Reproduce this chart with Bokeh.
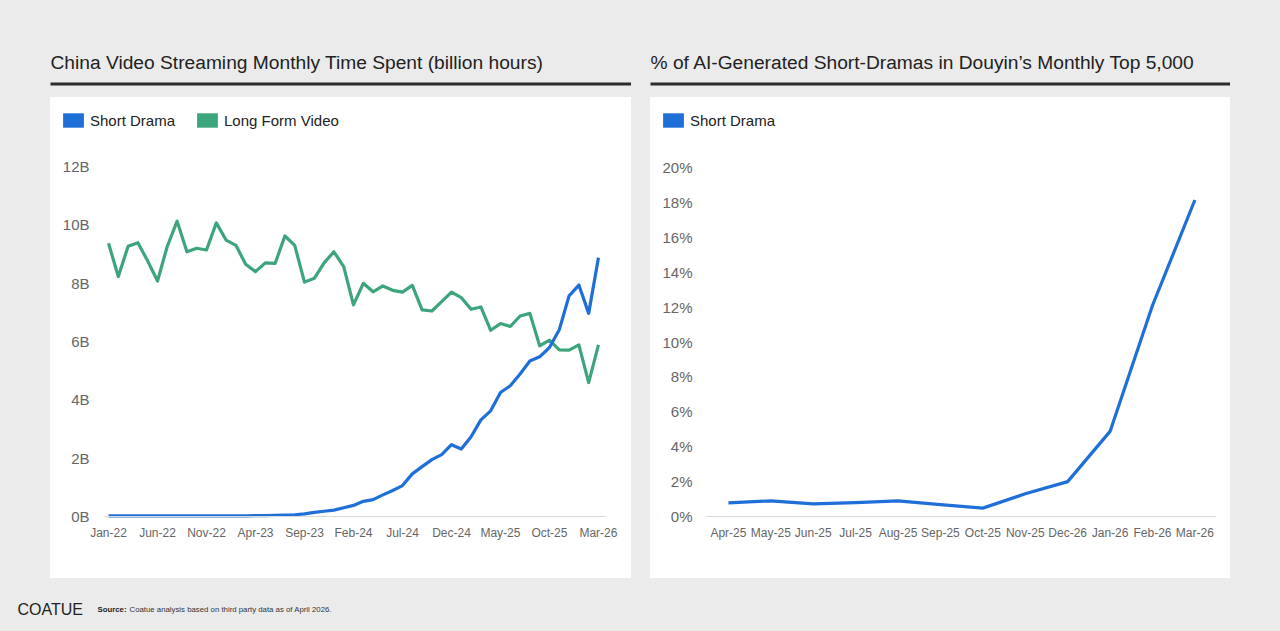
from bokeh.plotting import figure
from bokeh.layouts import row, column
from bokeh.models import (Range1d, FixedTicker, Legend, LegendItem, Span, Label,
                          Spacer, GlobalInlineStyleSheet)
from bokeh.embed import file_html
from bokeh.resources import INLINE

FONT = "Liberation Sans"
BG = "#ebebeb"
BLUE = "#1f6fd8"
GREEN = "#3da57c"
TICK_GREY = "#666666"

# ---- left chart: monthly time spent, Jan-22 .. Mar-26 (billion hours)
month_idx = list(range(51))
short_drama_hours = [0.02, 0.02, 0.02, 0.02, 0.02, 0.02, 0.02, 0.02, 0.02, 0.02,
                     0.02, 0.02, 0.02, 0.02, 0.02, 0.03, 0.03, 0.04, 0.05, 0.06,
                     0.09, 0.14, 0.18, 0.22, 0.30, 0.38, 0.52, 0.58, 0.74, 0.89,
                     1.06, 1.46, 1.71, 1.95, 2.12, 2.46, 2.31, 2.73, 3.31, 3.62,
                     4.25, 4.48, 4.88, 5.33, 5.47, 5.79, 6.40, 7.56, 7.93, 6.96,
                     8.87]
long_form_hours = [9.36, 8.22, 9.26, 9.38, 8.75, 8.07, 9.26, 10.12, 9.07, 9.19,
                   9.13, 10.06, 9.47, 9.29, 8.64, 8.39, 8.69, 8.67, 9.61, 9.29,
                   8.03, 8.16, 8.69, 9.07, 8.56, 7.25, 7.99, 7.70, 7.90, 7.75,
                   7.69, 7.92, 7.08, 7.04, 7.36, 7.69, 7.50, 7.10, 7.18, 6.38,
                   6.61, 6.51, 6.87, 6.96, 5.85, 6.04, 5.71, 5.70, 5.88, 4.59,
                   5.88]
left_tick_pos = [0, 5, 10, 15, 20, 25, 30, 35, 40, 45, 50]
left_tick_labels = ["Jan-22", "Jun-22", "Nov-22", "Apr-23", "Sep-23", "Feb-24",
                    "Jul-24", "Dec-24", "May-25", "Oct-25", "Mar-26"]
left_y_ticks = [0, 2, 4, 6, 8, 10, 12]
left_y_labels = ["0B", "2B", "4B", "6B", "8B", "10B", "12B"]

# ---- right chart: % AI-generated short dramas, Apr-25 .. Mar-26
right_months = ["Apr-25", "May-25", "Jun-25", "Jul-25", "Aug-25", "Sep-25",
                "Oct-25", "Nov-25", "Dec-26", "Jan-26", "Feb-26", "Mar-26"]
right_idx = list(range(len(right_months)))
ai_share = [0.78, 0.90, 0.72, 0.80, 0.90, 0.68, 0.48, 1.30, 2.00, 4.88, 12.1, 18.15]
right_y_ticks = [0, 2, 4, 6, 8, 10, 12, 14, 16, 18, 20]
right_y_labels = ["0%", "2%", "4%", "6%", "8%", "10%", "12%", "14%", "16%", "18%", "20%"]

WHITE_CARD = {"background-color": "white"}


def bare(w, h, **kw):
    f = figure(width=w, height=h, x_range=Range1d(0, 1), y_range=Range1d(0, 1),
               toolbar_location=None, output_backend="svg",
               x_axis_location=None, y_axis_location=None, **kw)
    f.grid.visible = False
    f.outline_line_color = None
    return f


def header(text, w):
    # the frame itself is the dark rule under the title
    h = bare(w, 97, title=text, min_border_left=0, min_border_right=0,
             min_border_top=82, min_border_bottom=12)
    h.background_fill_color = "#2b2b2b"
    h.border_fill_color = BG
    h.title.text_font = FONT
    h.title.text_font_size = "19.2px"
    h.title.text_font_style = "normal"
    h.title.text_color = "#222222"
    h.title.align = "left"
    h.title.offset = 0
    h.title.standoff = 19
    return h


def key_strip(w, entries):
    k = bare(w, 46, min_border=0, styles=WHITE_CARD)
    k.background_fill_color = None
    k.border_fill_color = None
    items = []
    for name, col in entries:
        # hidden one-point box: only its legend swatch is shown
        r = k.rect(x=[0], y=[0], width=1, height=1, fill_color=col, line_color=None)
        r.visible = False
        items.append(LegendItem(label=name, renderers=[r]))
    k.add_layout(Legend(items=items, location="left", orientation="horizontal",
                        glyph_width=26, glyph_height=18, label_standoff=4, spacing=19,
                        padding=0, margin=10, border_line_color=None,
                        background_fill_alpha=0, label_text_font=FONT,
                        label_text_font_size="15px", label_text_color="#222222",
                        label_height=20))
    return row(k)


def panel(w, xr, yr, left, right, xticks, xlabels, yticks, ylabels, ystand):
    p = figure(width=w, height=435, x_range=xr, y_range=yr,
               toolbar_location=None, output_backend="svg", styles=WHITE_CARD,
               min_border_left=left, min_border_right=right,
               min_border_top=7, min_border_bottom=58)
    p.background_fill_color = None
    p.border_fill_color = None
    p.outline_line_color = None
    p.grid.visible = False
    p.axis.axis_line_color = None
    p.axis.major_tick_line_color = None
    p.axis.minor_tick_line_color = None
    p.axis.major_tick_out = 0
    p.axis.major_tick_in = 0
    p.axis.major_label_text_font = FONT
    p.axis.major_label_text_color = TICK_GREY
    p.xaxis.major_label_text_font_size = "12px"
    p.yaxis.major_label_text_font_size = "15px"
    p.xaxis.major_label_standoff = 5
    p.yaxis.major_label_standoff = ystand
    p.xaxis.ticker = FixedTicker(ticks=xticks)
    p.xaxis.major_label_overrides = dict(zip(xticks, xlabels))
    p.yaxis.ticker = FixedTicker(ticks=yticks)
    p.yaxis.major_label_overrides = dict(zip(yticks, ylabels))
    p.add_layout(Span(location=0, dimension="width", line_color="#d9d9d9", line_width=1))
    return p


# left panel
lp = panel(581, Range1d(-0.41, 50.82), Range1d(-0.137, 12.54), 54, 25,
           left_tick_pos, left_tick_labels, left_y_ticks, left_y_labels, 15)
lp.line(month_idx, long_form_hours, color=GREEN, line_width=3.2, line_join="round")
lp.line(month_idx, short_drama_hours, color=BLUE, line_width=3.2, line_join="round")
lk = key_strip(581, [("Short Drama", BLUE), ("Long Form Video", GREEN)])

# right panel
rp = panel(580, Range1d(-0.54, 11.51), Range1d(-0.23, 20.99), 55, 14,
           right_idx, right_months, right_y_ticks, right_y_labels, 13)
rp.line(right_idx, ai_share, color=BLUE, line_width=3.2, line_join="round")
rk = key_strip(580, [("Short Drama", BLUE)])

lt = header("China Video Streaming Monthly Time Spent (billion hours)", 581)
rt = header("% of AI-Generated Short-Dramas in Douyin\u2019s Monthly Top 5,000", 580)

# footer
ft = bare(1280, 53, min_border=0)
ft.background_fill_color = BG
ft.border_fill_color = BG
ft.add_layout(Label(x=17, y=22, x_units="screen", y_units="screen", text="COATUE",
                    text_font=FONT, text_font_size="16px", text_color="#222222",
                    text_baseline="middle"))
ft.add_layout(Label(x=97, y=22, x_units="screen", y_units="screen", text="Source:",
                    text_font=FONT, text_font_size="7.8px", text_font_style="bold",
                    text_color="#222222", text_baseline="middle"))
ft.add_layout(Label(x=129, y=22, x_units="screen", y_units="screen",
                    text="Coatue analysis based on third party data as of April 2026.",
                    text_font=FONT, text_font_size="7.8px", text_color="#333333",
                    text_baseline="middle"))

top = row(Spacer(width=50, height=97), lt, Spacer(width=19, height=97), rt)
mid = row(Spacer(width=50, height=481), column(lk, lp), Spacer(width=19, height=481),
          column(rk, rp))
root = column(top, mid, ft,
              stylesheets=[GlobalInlineStyleSheet(css="html, body { background-color: #ebebeb; }")])

open("out.html", "w").write(file_html(root, INLINE))
